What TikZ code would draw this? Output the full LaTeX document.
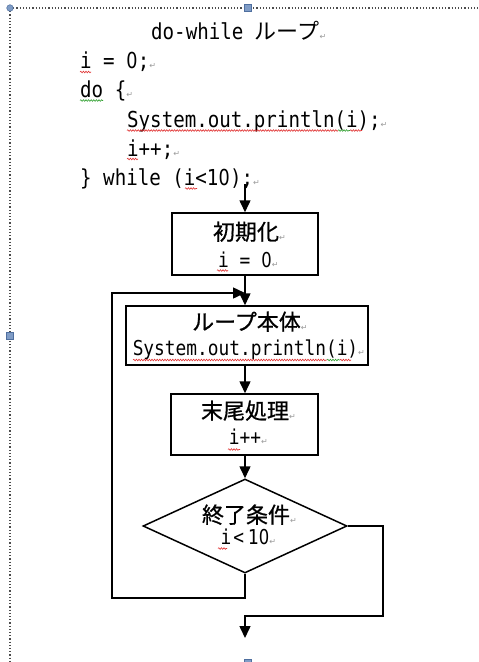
\documentclass[tikz,border=0pt]{standalone}
\usepackage{fontspec}
\usetikzlibrary{arrows.meta,shapes.geometric,decorations.pathmorphing}
\newfontfamily\jpfont{Noto Sans CJK JP}
\newfontfamily\jpboldfont[FakeBold=0.7]{Noto Sans CJK JP}
\newfontfamily\codefont[FakeStretch=0.87]{DejaVu Sans Mono}
\newfontfamily\zerofont[FakeStretch=0.80]{DejaVu Sans}
\newfontfamily\symfont{DejaVu Sans}
\definecolor{retgray}{HTML}{9A9A9A}
\definecolor{handlefill}{HTML}{7F9CC6}
\definecolor{handledraw}{HTML}{4F6F9F}
\definecolor{squigred}{HTML}{E03030}
\definecolor{squiggreen}{HTML}{30A030}
\newcommand{\JP}{\jpfont\fontsize{22}{22}\selectfont}
\newcommand{\JPB}{\jpboldfont\fontsize{22}{22}\selectfont}
\newcommand{\CD}{\codefont\fontsize{22}{22}\selectfont}
\newcommand{\CDS}{\codefont\fontsize{20.5}{20.5}\selectfont}
\newcommand{\Z}{\makebox[0.5238em]{\zerofont 0}}
\newcommand{\retm}{{\symfont\fontsize{8}{8}\selectfont\color{retgray}↵}}
\tikzset{
  codeline/.style={font=\CD, anchor=base west, inner sep=0pt},
  codec/.style={font=\CDS, anchor=base, inner sep=0pt},
  jptext/.style={font=\JPB, anchor=base, inner sep=0pt},
  flowbox/.style={draw, line width=1.5pt, minimum width=#1, inner sep=0pt},
  arr/.style={line width=1.5pt, -{Triangle[length=12pt,width=11pt]}},
  squig/.style={decorate, decoration={snake, amplitude=0.8pt, segment length=2.6pt}, line width=0.6pt, squigred},
  squigg/.style={squig, squiggreen},
  handle/.style={fill=handlefill, draw=handledraw, line width=0.5pt},
  frame/.style={draw=black!70, line width=1.2pt, dotted}
}
\begin{document}
\begin{tikzpicture}[x=1pt,y=-1pt]
\useasboundingbox[fill=white] (0,0) rectangle (479,662);
% selection frame
\draw[frame] (10,8) -- (479,8);
\draw[frame] (10,8) -- (10,662);
\filldraw[handle] (10,8) circle (3.3);
\filldraw[handle] (244.7,4.7) rectangle (251.3,11.3);
\filldraw[handle] (6.7,332.5) rectangle (13.3,339.1);
\filldraw[handle] (244.7,659) rectangle (251.3,665.6);

% code text
\node[codeline] (title) at (151,39) {do-while {\JP ループ}\retm};
\node[codeline] (c1) at (80,68.5) {i = \Z;\retm};
\node[codeline] (c2) at (80,97.5) {do \{\retm};
\node[codeline] (c3) at (127,127) {System.out.println(i);\retm};
\node[codeline] (c4) at (127,156) {i++;\retm};
\node[codeline] (c5) at (80,185) {\} while (i<1\Z);\retm};

% spell-check marks
\draw[squig] (80,72) -- (91,72);
\draw[squigg] (80,100.5) -- (103,100.5);
\draw[squig] (127,130.5) -- (338,130.5);
\draw[squigg] (338,130.5) -- (350,130.5);
\draw[squig] (350,130.5) -- (362,130.5);
\draw[squig] (127,159) -- (138,159);
\draw[squig] (185,188.5) -- (197,188.5);

% flowchart boxes
\node[flowbox=146pt, minimum height=62pt] (init) at (245,244) {};
\node[flowbox=242pt, minimum height=59pt] (body) at (247,335.5) {};
\node[flowbox=147pt, minimum height=61pt] (tail) at (244.5,424.5) {};
\node[draw, diamond, line width=1.5pt, minimum width=204pt, minimum height=94pt, inner sep=0pt] (cond) at (245,526) {};

% box texts
\node[jptext] (t1a) at (246,240) {初期化\rlap{\retm}};
\node[codec] (t1b) at (245,267) {i = \Z\rlap{\retm}};
\node[jptext] (t2a) at (246.5,330) {ループ本体\rlap{\retm}};
\node[codec] (t2b) at (245.5,355) {System.out.println(i)\rlap{\retm}};
\node[jptext] (t3a) at (245,419) {末尾処理\rlap{\retm}};
\node[codec] (t3b) at (245,444) {i++\rlap{\retm}};
\node[jptext] (t4a) at (246,523) {終了条件\rlap{\retm}};
\node[codec] (t4b) at (245,544) {i\hspace{2pt}<\hspace{4pt}1\Z\rlap{\retm}};

\draw[squig] (217,270.5) -- (228,270.5);
\draw[squig] (133,360) -- (327,360);
\draw[squigg] (327,360) -- (340,360);
\draw[squig] (340,360) -- (351,360);
\draw[squig] (228,449.5) -- (240,449.5);
\draw[squig] (218,548.5) -- (227,548.5);

% coordinates
\coordinate (start) at (245,184);
\coordinate (join) at (245,293);
\coordinate (lb) at (245,598);
\coordinate (ll) at (112,598);
\coordinate (lt) at (112,293);
\coordinate (er) at (383,526);
\coordinate (eb) at (383,616);
\coordinate (ej) at (245,616);
\coordinate (eend) at (245,638);

% connectors
\draw[arr] (start) -- (init.north);
\draw[arr] (init.south) -- (init.south |- body.north);
\draw[arr] (body.south -| init.south) -- (tail.north -| init.south);
\draw[arr] (tail.south -| init.south) -- (cond.north);
\draw[arr] (cond.south) -- (lb) -- (ll) -- (lt) -- (join);
\draw[arr] (cond.east) -- (er) -- (eb) -- (ej) -- (eend);
\end{tikzpicture}
\end{document}
